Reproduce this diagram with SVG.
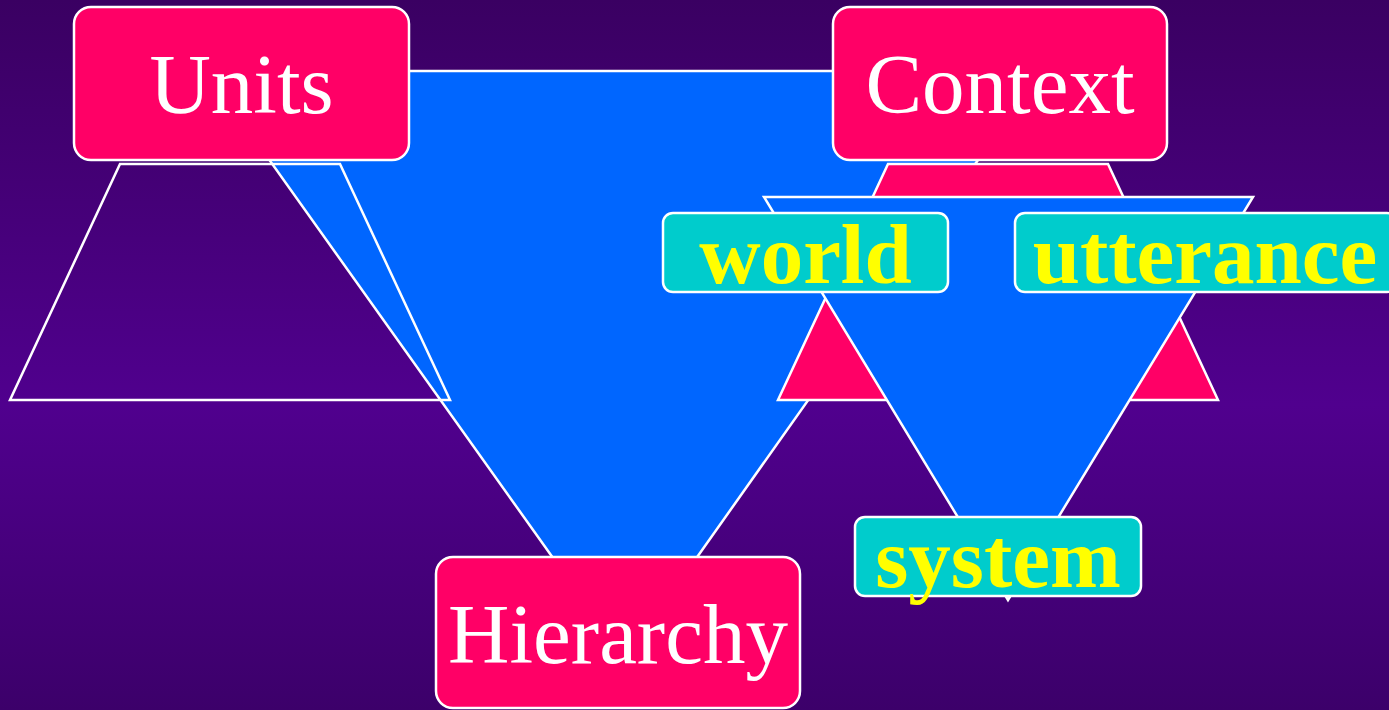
<svg xmlns="http://www.w3.org/2000/svg" width="1389" height="710" viewBox="0 0 1389 710">
<defs>
<linearGradient id="bg" x1="0" y1="0" x2="0" y2="1">
<stop offset="0" stop-color="#3a0062"/>
<stop offset="0.57" stop-color="#50008e"/>
<stop offset="1" stop-color="#3c006a"/>
</linearGradient>
</defs>
<style>
.sh{stroke:#ffffff;stroke-width:2.5;stroke-linejoin:miter}
.blue{fill:#0066ff}
.pink{fill:#ff0066}
.none{fill:none}
.box{fill:#ff0066;stroke:#ffffff;stroke-width:2.5}
.sbox{fill:#00cccc;stroke:#ffffff;stroke-width:2.5}
.big{font-family:"Liberation Serif","Times New Roman",serif;font-size:85px;fill:#ffffff;text-anchor:middle}
.small{font-family:"Liberation Serif","Times New Roman",serif;font-size:85px;font-weight:bold;fill:#ffff00;text-anchor:middle}
</style>
<rect x="0" y="0" width="1389" height="710" fill="url(#bg)"/>
<g id="shapes">
<polygon class="sh blue" points="206,71 1041,71 625,659"/>
<polygon class="sh none" points="120,164 340,164 450,400 10,400"/>
<polygon class="sh pink" points="888,164 1108,164 1218,400 778,400"/>
<polygon class="sh blue" points="764,197 1253,197 1008,600"/>
</g>
<g id="node-units">
<rect class="box" x="74" y="7" width="335" height="153" rx="17"/>
<text class="big" x="241.5" y="113">Units</text>
</g>
<g id="node-context">
<rect class="box" x="833" y="7" width="334" height="153" rx="17"/>
<text class="big" x="1000" y="113">Context</text>
</g>
<g id="node-hierarchy">
<rect class="box" x="436" y="557" width="364" height="151" rx="17"/>
<text class="big" x="618" y="663">Hierarchy</text>
</g>
<g id="node-world">
<rect class="sbox" x="663" y="213" width="285" height="79" rx="10"/>
<text class="small" x="805.5" y="283">world</text>
</g>
<g id="node-utterance">
<rect class="sbox" x="1015" y="213" width="382" height="79" rx="10"/>
<text class="small" x="1205" y="283">utterance</text>
</g>
<g id="node-system">
<rect class="sbox" x="855" y="517" width="286" height="79" rx="10"/>
<text class="small" x="998" y="587">system</text>
</g>
</svg>
